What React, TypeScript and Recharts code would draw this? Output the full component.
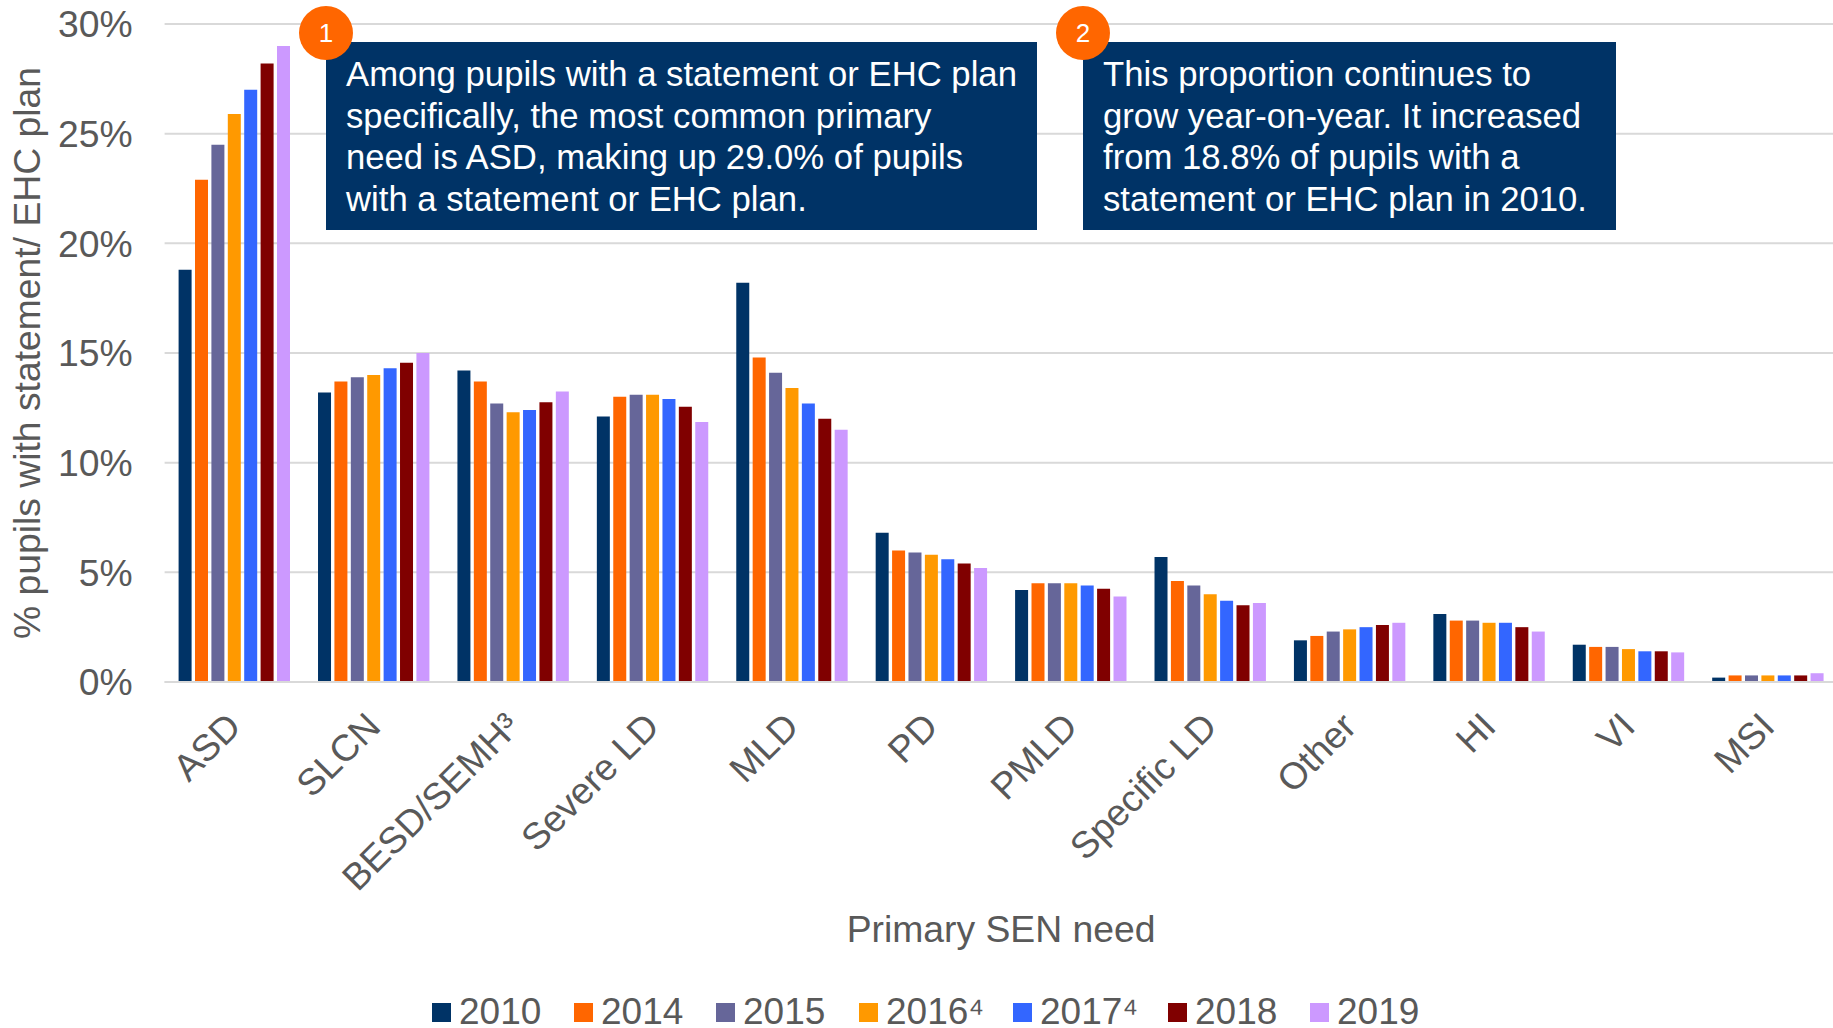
import React from "react";
import { BarChart, Bar, XAxis, YAxis, CartesianGrid, Legend, Text } from "recharts";

const needs = ["ASD","SLCN","BESD/SEMH³","Severe LD","MLD","PD","PMLD","Specific LD","Other","HI","VI","MSI"];
const v2010 = [18.8,13.2,14.2,12.1,18.2,6.8,4.2,5.7,1.9,3.1,1.7,0.2];
const v2014 = [22.9,13.7,13.7,13.0,14.8,6.0,4.5,4.6,2.1,2.8,1.6,0.3];
const v2015 = [24.5,13.9,12.7,13.1,14.1,5.9,4.5,4.4,2.3,2.8,1.6,0.3];
const v2016 = [25.9,14.0,12.3,13.1,13.4,5.8,4.5,4.0,2.4,2.7,1.5,0.3];
const v2017 = [27.0,14.3,12.4,12.9,12.7,5.6,4.4,3.7,2.5,2.7,1.4,0.3];
const v2018 = [28.2,14.55,12.75,12.55,12.0,5.4,4.25,3.5,2.6,2.5,1.4,0.3];
const v2019 = [29.0,15.0,13.25,11.85,11.5,5.2,3.9,3.6,2.7,2.3,1.35,0.4];
const yTicks = [0,5,10,15,20,25,30];

const seriesDefs = [
  { name: "2010", values: v2010, color: "#003366" },
  { name: "2014", values: v2014, color: "#FF6600" },
  { name: "2015", values: v2015, color: "#666699" },
  { name: "2016⁴", values: v2016, color: "#FF9900" },
  { name: "2017⁴", values: v2017, color: "#3366FF" },
  { name: "2018", values: v2018, color: "#800000" },
  { name: "2019", values: v2019, color: "#CC99FF" },
];
const rows = needs.map((need, i) => {
  const r: Record<string, string | number> = { need };
  seriesDefs.forEach((s) => { r[s.name] = s.values[i]; });
  return r;
});

const FONT = '"Liberation Sans", Arial, sans-serif';
const GREY = "#595959";
const AXIS_FONT = 37.3;
const legendLeft = [432, 574, 716, 859, 1013, 1168, 1310];

const LegendBox = ({ payload }: any) => (
  <div style={{ position: "relative", width: 1833, height: 32 }}>
    {(payload || []).map((p: any, i: number) => (
      <div key={p.value} style={{ position: "absolute", left: legendLeft[i], top: 0, display: "flex", alignItems: "center", height: 32, whiteSpace: "nowrap" }}>
        <span style={{ display: "inline-block", width: 19, height: 19, background: p.color, marginRight: 8 }} />
        <span style={{ fontFamily: FONT, fontSize: 37, lineHeight: "32px", color: GREY }}>{p.value}</span>
      </div>
    ))}
  </div>
);

const NeedTick = ({ x, y, payload }: any) => (
  <Text x={x - 10} y={y} angle={-45} textAnchor="end" verticalAnchor="start" fill={GREY} fontSize={AXIS_FONT} fontFamily={FONT}>
    {payload.value}
  </Text>
);

const callouts = [
  { n: "1", left: 326, width: 711, lines: ["Among pupils with a statement or EHC plan", "specifically, the most common primary", "need is ASD, making up 29.0% of pupils", "with a statement or EHC plan."] },
  { n: "2", left: 1083, width: 533, lines: ["This proportion continues to", "grow year-on-year. It increased", "from 18.8% of pupils with a", "statement or EHC plan in 2010."] },
];

export default function App() {
  return (
    <div style={{ position: "absolute", left: 0, top: 0, width: 1833, height: 1028, overflow: "hidden", background: "#fff" }}>
      <BarChart width={1840} height={1028} data={rows} barSize={13} barGap={3.4} margin={{ top: 24, right: 2.4, bottom: 0, left: 0 }}>
        <CartesianGrid horizontal vertical={false} stroke="#D9D9D9" strokeWidth={2} />
        <XAxis dataKey="need" type="category" interval={0} height={346} tickLine={false} tickSize={0} tickMargin={28}
          axisLine={{ stroke: "#D9D9D9", strokeWidth: 2 }} tick={<NeedTick />}
          label={{ value: "Primary SEN need", position: "insideBottom", offset: 86, fill: GREY, fontSize: AXIS_FONT, fontFamily: FONT }} />
        <YAxis domain={[0, 30]} ticks={yTicks} width={164.6} axisLine={false} tickLine={false} tickSize={0} tickMargin={32}
          tickFormatter={(v: number) => `${v}%`} tick={{ fill: GREY, fontSize: AXIS_FONT, fontFamily: FONT }}
          label={{ value: "% pupils with statement/ EHC plan", angle: -90, position: "insideLeft", offset: 27, fill: GREY, fontSize: AXIS_FONT, fontFamily: FONT, style: { textAnchor: "middle" } }} />
        <Legend layout="horizontal" verticalAlign="middle" align="center" content={<LegendBox />} wrapperStyle={{ position: "absolute", left: 0, top: 996, width: 1833, height: 32 }} />
        {seriesDefs.map((s) => (
          <Bar key={s.name} dataKey={s.name} fill={s.color} isAnimationActive={false} />
        ))}
      </BarChart>
      {callouts.map((c) => (
        <React.Fragment key={c.n}>
          <div style={{ position: "absolute", left: c.left, top: 42, width: c.width, height: 188, background: "#003366", color: "#fff", fontFamily: FONT, fontSize: 34.7, lineHeight: "41.6px", paddingLeft: 20, paddingTop: 12, boxSizing: "border-box", whiteSpace: "nowrap" }}>
            {c.lines.map((l) => <div key={l}>{l}</div>)}
          </div>
          <div style={{ position: "absolute", left: c.left - 27, top: 6, width: 54, height: 54, borderRadius: "50%", background: "#FF6600", color: "#fff", fontFamily: FONT, fontSize: 26, display: "flex", alignItems: "center", justifyContent: "center" }}>{c.n}</div>
        </React.Fragment>
      ))}
    </div>
  );
}
